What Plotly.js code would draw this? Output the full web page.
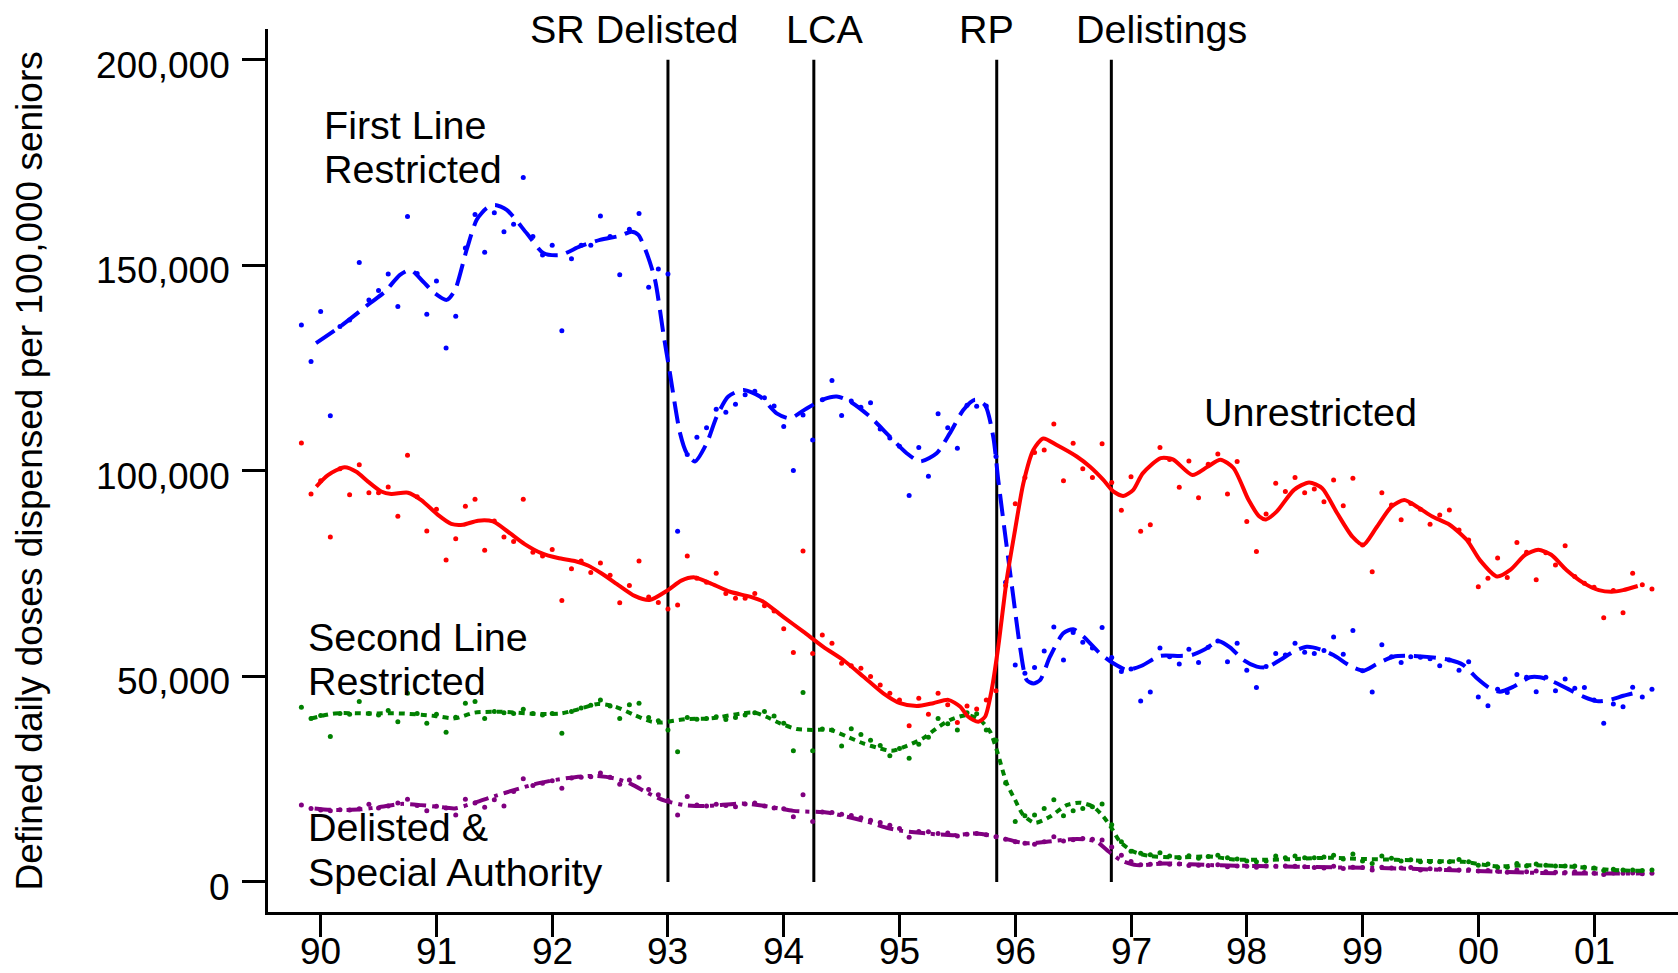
<!DOCTYPE html>
<html><head><meta charset="utf-8">
<script src="https://cdn.plot.ly/plotly-3.0.1.min.js"></script>
<style>html,body{margin:0;padding:0;background:#fff}#chart{width:1678px;height:973px}</style>
</head><body><div id="chart"></div>
<script>
// Monthly observations start in November 1989 (x in decimal years, 90 = 1990)
const firstMonth = 89 + 10/12;

// Defined daily doses per 100,000 seniors, in thousands (monthly points)
const firstLineDots = [135.5,126.6,138.8,113.4,135.1,136.7,150.7,141.6,143.9,147.9,140.0,161.9,148.0,138.1,146.2,129.9,137.6,154.2,162.4,153.2,
162.8,158.2,160.0,171.4,157.0,152.5,154.9,134.1,151.6,154.9,154.9,162.0,157.0,147.7,158.8,162.6,144.7,149.1,147.9,85.3,
104.0,108.2,110.5,115.0,114.3,116.2,118.5,119.4,117.8,115.8,110.8,100.1,113.6,107.5,117.3,122.0,113.5,117.0,115.5,116.6,
110.2,108.0,106.0,94.0,105.7,98.7,113.9,110.5,105.5,116.0,115.7,115.8,103.5,72.9,52.8,50.8,52.2,56.2,62.0,54.0,
60.7,58.3,56.9,61.9,54.6,51.2,51.8,44.0,46.2,56.9,54.8,53.0,56.6,53.4,57.1,58.6,53.6,58.1,51.5,47.3,
52.4,55.6,55.2,58.1,55.9,55.6,56.3,59.6,55.4,61.2,51.4,46.2,57.7,54.8,53.4,54.8,54.7,54.3,52.6,54.0,
51.5,53.6,45.0,42.9,46.9,46.1,50.5,49.8,46.3,49.8,46.5,49.4,47.1,47.3,44.3,38.6,43.3,42.6,47.4,45.0,46.9];

const unrestrictedDots = [106.8,94.4,97.6,83.9,100.5,94.2,101.5,94.7,94.7,96.1,89.0,103.8,93.7,85.4,90.7,78.3,83.5,91.4,93.1,80.7,
87.8,83.9,82.8,93.1,80.2,79.3,80.9,68.5,76.2,78.1,75.3,77.6,74.6,67.9,72.1,78.1,69.3,68.0,66.4,67.4,
79.3,73.9,72.9,75.1,70.2,69.0,69.0,70.2,67.2,65.9,61.6,55.8,80.5,55.6,60.1,58.1,53.2,52.6,52.0,50.0,
47.9,45.9,44.3,38.0,44.7,40.8,45.9,43.1,38.8,42.8,42.1,44.3,46.5,72.1,92.0,98.4,104.5,105.1,111.4,97.6,
106.7,100.5,98.4,106.6,97.2,90.4,98.6,85.3,86.9,105.7,102.8,96.0,102.4,93.5,101.6,104.1,94.4,102.3,87.7,80.4,
89.5,97.0,95.0,98.4,94.7,95.6,92.5,97.8,91.5,98.2,82.0,75.5,94.7,91.7,88.1,92.1,90.7,87.0,89.3,90.5,
85.6,83.2,71.8,73.9,78.8,74.1,82.6,80.2,73.5,80.1,77.1,81.8,74.3,72.7,71.7,64.3,70.9,65.5,75.1,72.3,71.3];

const secondLineDots = [42.5,39.8,40.5,35.4,41.0,40.8,43.9,41.0,40.6,41.7,39.0,45.9,41.0,38.6,40.8,36.4,40.1,43.5,43.9,39.8,
41.5,41.2,41.0,42.0,41.0,40.6,41.0,36.2,41.5,42.3,43.0,44.3,42.8,39.8,43.1,43.5,40.0,39.2,37.0,31.7,
40.0,39.6,39.8,40.2,39.5,40.0,40.6,41.2,41.5,40.4,38.6,31.9,46.1,31.9,37.2,37.0,33.1,37.3,35.9,34.5,
33.2,30.7,32.5,30.1,33.5,35.2,39.8,38.5,37.0,41.2,40.9,37.0,34.5,24.1,14.7,16.1,16.3,17.9,20.0,16.1,
17.3,17.9,18.3,19.0,13.9,9.8,7.5,7.0,6.6,7.1,6.3,5.9,6.4,5.8,6.2,6.5,5.9,5.6,5.1,4.9,
5.1,6.3,5.9,6.3,5.9,5.9,6.1,6.5,5.6,6.8,5.1,4.5,6.3,5.8,5.1,5.4,4.9,4.9,4.9,4.9,
5.5,4.9,4.1,4.4,3.6,3.6,4.5,3.9,4.4,4.1,3.9,3.9,3.9,3.6,3.4,2.8,3.1,2.9,2.9,2.8,2.9];

const delistedDots = [18.7,17.9,17.5,17.3,17.6,17.5,17.8,18.9,18.0,18.5,19.2,20.1,18.6,17.3,18.4,18.0,16.3,20.1,19.2,18.2,
20.0,18.5,22.0,25.1,23.5,24.0,24.6,22.8,25.3,25.5,25.6,26.5,25.5,23.8,24.8,25.5,22.5,21.2,19.8,16.3,
20.8,18.7,18.5,18.9,18.6,18.3,19.0,19.2,18.5,18.0,17.8,15.9,21.2,14.7,17.0,16.9,16.5,16.2,15.6,15.0,
14.5,13.8,13.0,10.9,12.3,12.2,11.8,11.9,11.2,11.6,11.8,11.5,11.0,10.4,9.8,9.4,9.2,9.8,11.0,10.0,
10.3,10.6,10.4,10.2,8.5,6.5,5.0,4.2,4.3,4.6,4.3,4.4,4.0,4.1,4.0,4.2,3.7,3.9,3.8,3.6,
3.9,3.8,3.9,3.8,3.7,3.5,3.4,3.8,3.3,3.6,3.5,2.9,3.6,3.4,3.4,3.5,2.9,3.2,3.1,3.2,
2.9,3.0,2.7,2.8,2.6,2.4,2.9,2.5,2.7,2.5,2.4,2.3,2.5,2.3,2.1,1.8,2.2,2.1,2.2,2.0,2.1];

// Smoothed trend lines
const firstLineFitX = [89.96,90.167,90.426,90.555,90.685,90.777,90.886,90.987,91.088,91.16,91.261,91.348,91.434,91.506,91.607,91.78,91.923,92.067,92.24,92.413,92.586,92.687,92.744,92.816,92.888,92.96,93.017,93.104,93.162,93.233,93.334,93.421,93.521,93.651,93.795,93.939,94.054,94.198,94.342,94.458,94.572,94.745,94.918,95.062,95.177,95.321,95.436,95.551,95.652,95.739,95.81,95.853,95.926,95.983,96.041,96.099,96.156,96.214,96.3,96.415,96.501,96.588,96.732,96.847,96.963,97.092,97.25,97.423,97.524,97.639,97.754,97.855,97.97,98.086,98.172,98.287,98.402,98.518,98.633,98.748,98.892,99.006,99.122,99.266,99.439,99.583,99.755,99.87,99.986,100.101,100.187,100.302,100.446,100.533,100.648,100.792,100.907,101.023,101.138,101.253,101.368];
const firstLineFitY = [131.1,135.1,140.8,143.6,147.7,148.9,146.0,143.2,141.6,144.0,153.8,161.1,163.9,164.7,163.5,157.8,153.0,152.5,154.6,156.2,157.2,158.2,157.4,153.0,146.5,133.5,123.8,109.2,104.3,102.3,106.7,113.2,118.1,119.7,118.1,114.0,112.8,115.2,117.4,118.1,116.9,113.2,108.3,104.3,102.3,104.3,109.2,114.8,117.3,116.0,108.3,97.8,81.6,69.4,57.2,49.1,48.3,49.1,54.8,60.5,61.5,59.7,55.6,53.2,51.6,52.6,55.0,55.0,55.2,56.6,58.6,57.1,54.0,52.4,52.2,54.0,56.0,57.2,56.6,55.2,52.6,51.4,53.0,54.8,55.0,54.7,54.0,52.8,49.6,47.1,46.3,47.5,49.8,49.8,48.7,46.7,45.1,44.0,44.3,45.3,46.1];

const unrestrictedFitX = [89.962,90.063,90.207,90.308,90.409,90.523,90.61,90.754,90.869,91.013,91.128,91.229,91.359,91.488,91.618,91.762,91.906,92.05,92.194,92.309,92.424,92.568,92.712,92.842,93.0,93.115,93.231,93.363,93.536,93.709,93.823,93.996,94.169,94.342,94.514,94.687,94.86,95.004,95.149,95.292,95.422,95.523,95.594,95.681,95.739,95.796,95.853,95.926,95.998,96.07,96.156,96.242,96.358,96.531,96.646,96.761,96.847,96.933,97.02,97.101,97.257,97.362,97.53,97.661,97.773,97.885,98.016,98.109,98.165,98.258,98.408,98.538,98.651,98.781,98.912,99.006,99.117,99.249,99.36,99.491,99.603,99.752,99.901,100.014,100.163,100.276,100.406,100.518,100.63,100.761,100.911,101.041,101.153,101.251,101.377];
const unrestrictedFitY = [96.2,99.0,100.9,99.8,97.4,95.0,94.4,94.7,92.9,89.3,87.1,86.9,87.9,87.7,85.2,82.2,80.0,78.8,78.1,77.0,75.1,72.3,69.6,68.6,71.0,73.3,74.1,72.7,70.6,69.4,68.2,64.5,60.9,57.2,54.0,50.0,45.9,43.5,42.8,43.5,44.3,42.7,40.2,39.0,40.2,46.7,57.2,73.5,85.6,97.0,105.1,107.9,106.3,103.5,101.0,97.8,95.0,93.9,95.4,99.4,103.1,102.8,99.0,101.0,102.7,100.7,92.9,88.9,88.2,90.1,95.4,97.2,95.8,89.7,84.0,82.0,86.1,91.3,92.9,90.9,88.9,86.9,83.2,78.3,74.3,75.9,79.6,80.8,79.6,75.9,72.7,71.0,70.6,71.0,72.0];

const secondLineFitX = [89.919,90.121,90.409,90.696,90.985,91.158,91.33,91.56,91.849,92.078,92.223,92.395,92.54,92.712,92.856,92.942,93.144,93.374,93.633,93.749,93.849,93.968,94.112,94.255,94.4,94.544,94.687,94.832,94.933,95.062,95.206,95.321,95.436,95.581,95.695,95.782,95.84,95.926,95.998,96.069,96.17,96.3,96.444,96.559,96.674,96.761,96.833,96.905,97.02,97.164,97.395,97.682,97.883,98.143,98.431,98.719,99.006,99.295,99.583,99.87,100.159,100.447,100.878,101.166,101.425];
const secondLineFitY = [39.8,41.0,41.0,41.0,40.4,39.8,41.2,41.4,40.9,41.0,42.0,43.3,42.7,40.6,39.0,38.8,39.6,39.8,41.0,41.2,40.2,38.6,37.2,37.0,37.0,35.4,33.7,32.5,31.9,33.1,35.0,37.4,39.4,40.6,39.4,36.6,32.1,24.0,20.0,16.3,14.4,15.9,18.7,19.3,18.3,15.9,13.1,9.8,7.4,6.3,6.0,6.2,5.5,5.4,5.6,5.9,5.6,5.4,5.1,4.9,3.8,4.1,3.6,2.9,2.7];

const delistedFitX = [89.948,90.121,90.351,90.523,90.696,90.869,91.013,91.158,91.33,91.503,91.676,91.849,92.021,92.194,92.367,92.54,92.683,92.827,92.972,93.144,93.346,93.633,93.836,94.083,94.371,94.544,94.717,94.889,95.004,95.235,95.465,95.667,95.84,96.012,96.099,96.272,96.473,96.588,96.703,96.79,96.905,97.049,97.279,97.711,98.431,99.295,100.159,100.735,101.425];
const delistedFitY = [17.9,17.5,17.7,18.3,19.0,18.7,18.3,17.9,19.3,20.9,22.4,23.8,24.8,25.5,25.8,25.2,23.8,21.6,19.8,18.7,18.5,19.1,18.5,17.3,16.9,15.9,14.7,13.2,12.5,11.8,11.4,11.8,11.0,9.8,9.4,9.8,10.4,10.4,9.8,7.8,5.4,4.1,4.5,4.1,3.7,3.3,2.5,2.1,2.1];

// Policy events (vertical lines) and their labels
const eventYears = [93.0, 94.26, 95.84, 96.83];
const eventLabels = ['SR Delisted', 'LCA', 'RP', 'Delistings'];
const eventLabelX = [92.71, 94.35, 95.755, 97.26];

// Axis ticks
const xTickVals = [90,91,92,93,94,95,96,97,98,99,100,101];
const xTickText = ['90','91','92','93','94','95','96','97','98','99','00','01'];
const yTickVals = [0,50,100,150,200];
const yTickText = ['0','50,000','100,000','150,000','200,000'];

const months = firstLineDots.map((_, i) => firstMonth + i / 12);

const FONT = 'Liberation Sans, Arial, Helvetica, sans-serif';
const BLUE = '#0000ff', RED = '#ff0000', GREEN = '#008000', PURPLE = '#800080';

function dots(y, color) {
  return {x: months, y: y, type: 'scatter', mode: 'markers',
    marker: {color: color, size: 5, line: {width: 0}}, hoverinfo: 'skip', cliponaxis: false};
}
function fit(x, y, color, dash) {
  return {x: x, y: y, type: 'scatter', mode: 'lines',
    line: {color: color, width: 4, dash: dash, shape: 'spline', smoothing: 0.7}, hoverinfo: 'skip'};
}

const traces = [
  dots(delistedDots, PURPLE), fit(delistedFitX, delistedFitY, PURPLE, '16px,6px,4px,6px'),
  dots(secondLineDots, GREEN), fit(secondLineFitX, secondLineFitY, GREEN, '6px,5px'),
  dots(firstLineDots, BLUE), fit(firstLineFitX, firstLineFitY, BLUE, '22px,9px'),
  dots(unrestrictedDots, RED), fit(unrestrictedFitX, unrestrictedFitY, RED, 'solid')
];

const shapes = eventYears.map(v => ({type: 'line', xref: 'x', yref: 'y', x0: v, x1: v, y0: 0, y1: 200,
  line: {color: '#000', width: 3}, layer: 'below'}));

const LBL = 39.5;
const txt = (text, x, y, xanchor, xref, yref, size) => ({text: text, x: x, y: y, xref: xref || 'x', yref: yref || 'y',
  xanchor: xanchor, yanchor: 'middle', showarrow: false, font: {family: FONT, size: size || LBL, color: '#000'}});

const annotations = [
  ...eventLabels.map((t, i) => txt(t, eventLabelX[i], 1.0, 'center', 'x', 'paper')),
  txt('First Line', 90.01, 184.25, 'left'),
  txt('Restricted', 90.01, 173.5, 'left'),
  txt('Second Line', 89.87, 59.7, 'left'),
  txt('Restricted', 89.87, 49.0, 'left'),
  txt('Delisted &amp;', 89.87, 13.4, 'left'),
  txt('Special Authority', 89.87, 2.4, 'left'),
  txt('Unrestricted', 97.61, 114.3, 'left'),
  ...xTickVals.map((v, i) => txt(xTickText[i], v, -0.045, 'center', 'x', 'paper', 37)),
  ...yTickVals.map((v, i) => Object.assign(txt(yTickText[i], -0.0253, v, 'right', 'paper', 'y', 37), {yshift: -5.5})),
  {text: 'Defined daily doses dispensed per 100,000 seniors', xref: 'paper', yref: 'paper',
   x: -0.1688, y: 0.5, xanchor: 'center', yanchor: 'middle', textangle: -90, showarrow: false,
   font: {family: FONT, size: 37, color: '#000'}}
];

const layout = {
  width: 1678, height: 973,
  margin: {l: 268, r: 0, t: 29, b: 61, pad: 0},
  paper_bgcolor: '#fff', plot_bgcolor: '#fff',
  showlegend: false,
  font: {family: FONT, size: 37, color: '#000'},
  xaxis: {range: [89.545, 101.725], tickmode: 'array', tickvals: xTickVals, showticklabels: false,
    showline: true, linecolor: '#000', linewidth: 3, ticks: 'outside', ticklen: 22, tickwidth: 3, tickcolor: '#000',
    showgrid: false, zeroline: false},
  yaxis: {range: [-7.3, 207.5], tickmode: 'array', tickvals: yTickVals, showticklabels: false,
    showline: true, linecolor: '#000', linewidth: 3, ticks: 'outside', ticklen: 23, tickwidth: 3, tickcolor: '#000',
    showgrid: false, zeroline: false},
  shapes: shapes,
  annotations: annotations
};

Plotly.newPlot('chart', traces, layout, {staticPlot: true, displayModeBar: false});
</script>
</body></html>
